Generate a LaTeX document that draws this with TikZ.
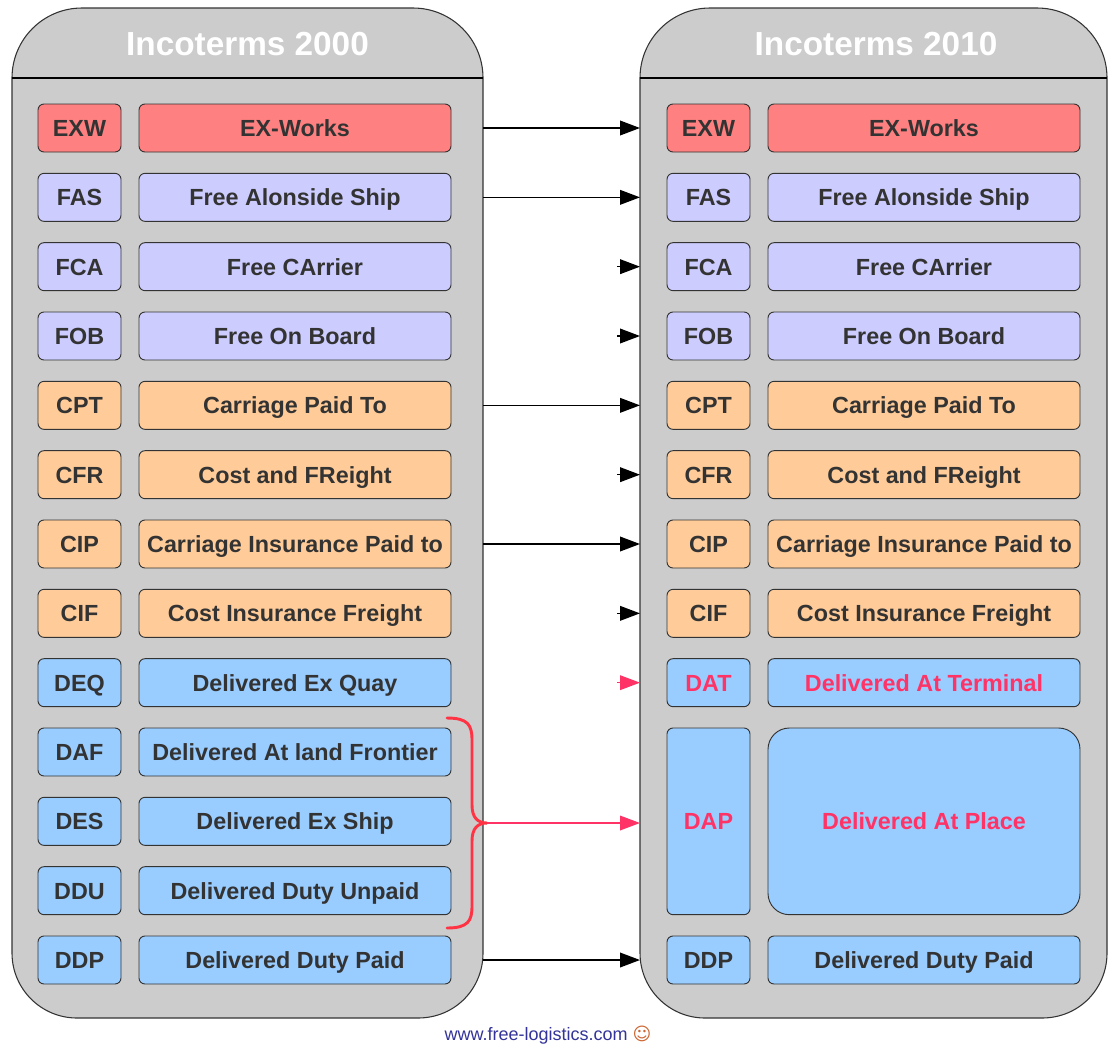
\documentclass[tikz,border=0pt]{standalone}
\usepackage{fontspec}
\setmainfont{Liberation Sans}
\newfontfamily\symfont{DejaVu Sans}
\usepackage{xcolor}
\usetikzlibrary{arrows.meta,positioning,calc}

\definecolor{panelgray}{HTML}{CCCCCC}
\definecolor{exred}{HTML}{FF8080}
\definecolor{flilac}{HTML}{CCCCFF}
\definecolor{corange}{HTML}{FFCC99}
\definecolor{dblue}{HTML}{99CCFF}
\definecolor{boxtext}{HTML}{333333}
\definecolor{newpink}{HTML}{FF3366}
\definecolor{bracered}{HTML}{FF3344}
\definecolor{webblue}{HTML}{333399}
\definecolor{smiley}{HTML}{CC6633}

\begin{document}
\begin{tikzpicture}[x=0.75pt, y=-0.75pt,
  node distance=16pt and 13.5pt,
  code/.style={draw=black!80, line width=0.7pt, rounded corners=4.5pt, outer sep=0pt,
               minimum width=62.25pt, minimum height=36pt, inner sep=1pt,
               text height=12.5pt, text depth=0pt,
               text=boxtext, font=\fontsize{17.5}{20}\selectfont\bfseries},
  term/.style={code, minimum width=234pt},
  panel/.style={fill=panelgray, draw=black!80, line width=0.8pt},
  head/.style={text=white, text height=18pt, text depth=0pt,
               font=\fontsize{25}{28}\selectfont\bfseries},
  ar/.style={-{Triangle[length=15pt, width=11pt]}, line width=1.2pt},
  arnew/.style={ar, draw=newpink, fill=newpink, line width=1pt}
]
\useasboundingbox (0,0) rectangle (1109,1043);

% panels
\path[panel] (12,78) .. controls (12,39.3) and (43.3,8) .. (82,8) -- (413,8)
  .. controls (451.7,8) and (483,39.3) .. (483,78) -- (483,953)
  .. controls (483,988.9) and (454.9,1018) .. (418,1018) -- (77,1018)
  .. controls (41.1,1018) and (12,988.9) .. (12,953) -- cycle;
\path[panel] (640,78) .. controls (640,39.3) and (671.3,8) .. (710,8) -- (1037,8)
  .. controls (1075.7,8) and (1107,39.3) .. (1107,78) -- (1107,953)
  .. controls (1107,988.9) and (1078.9,1018) .. (1042,1018) -- (705,1018)
  .. controls (669.1,1018) and (640,988.9) .. (640,953) -- cycle;
\draw[line width=0.8pt] (12,78) -- (483,78);
\draw[line width=0.8pt] (640,78) -- (1107,78);
\coordinate (edgeL) at (483,0);
\coordinate (edgeR) at (640,0);

\node[head] (h2000) at (247.5,43) {Incoterms 2000};
\node[head] (h2010) at (876,43) {Incoterms 2010};

% Incoterms 2000
\node[code, fill=exred] (exwL) at (79.5,128) {EXW};
\node[term, fill=exred, right=of exwL] (exwLn) {EX-Works};
\node[code, fill=flilac, below=of exwL] (fasL) {FAS};
\node[term, fill=flilac, right=of fasL] (fasLn) {Free Alonside Ship};
\node[code, fill=flilac, below=of fasL] (fcaL) {FCA};
\node[term, fill=flilac, right=of fcaL] (fcaLn) {Free CArrier};
\node[code, fill=flilac, below=of fcaL] (fobL) {FOB};
\node[term, fill=flilac, right=of fobL] (fobLn) {Free On Board};
\node[code, fill=corange, below=of fobL] (cptL) {CPT};
\node[term, fill=corange, right=of cptL] (cptLn) {Carriage Paid To};
\node[code, fill=corange, below=of cptL] (cfrL) {CFR};
\node[term, fill=corange, right=of cfrL] (cfrLn) {Cost and FReight};
\node[code, fill=corange, below=of cfrL] (cipL) {CIP};
\node[term, fill=corange, right=of cipL] (cipLn) {Carriage Insurance Paid to};
\node[code, fill=corange, below=of cipL] (cifL) {CIF};
\node[term, fill=corange, right=of cifL] (cifLn) {Cost Insurance Freight};
\node[code, fill=dblue, below=of cifL] (deqL) {DEQ};
\node[term, fill=dblue, right=of deqL] (deqLn) {Delivered Ex Quay};
\node[code, fill=dblue, below=of deqL] (dafL) {DAF};
\node[term, fill=dblue, right=of dafL] (dafLn) {Delivered At land Frontier};
\node[code, fill=dblue, below=of dafL] (desL) {DES};
\node[term, fill=dblue, right=of desL] (desLn) {Delivered Ex Ship};
\node[code, fill=dblue, below=of desL] (dduL) {DDU};
\node[term, fill=dblue, right=of dduL] (dduLn) {Delivered Duty Unpaid};
\node[code, fill=dblue, below=of dduL] (ddpL) {DDP};
\node[term, fill=dblue, right=of ddpL] (ddpLn) {Delivered Duty Paid};

% Incoterms 2010
\node[code, fill=exred] (exwR) at (708.5,128) {EXW};
\node[term, fill=exred, right=of exwR] (exwRn) {EX-Works};
\node[code, fill=flilac, below=of exwR] (fasR) {FAS};
\node[term, fill=flilac, right=of fasR] (fasRn) {Free Alonside Ship};
\node[code, fill=flilac, below=of fasR] (fcaR) {FCA};
\node[term, fill=flilac, right=of fcaR] (fcaRn) {Free CArrier};
\node[code, fill=flilac, below=of fcaR] (fobR) {FOB};
\node[term, fill=flilac, right=of fobR] (fobRn) {Free On Board};
\node[code, fill=corange, below=of fobR] (cptR) {CPT};
\node[term, fill=corange, right=of cptR] (cptRn) {Carriage Paid To};
\node[code, fill=corange, below=of cptR] (cfrR) {CFR};
\node[term, fill=corange, right=of cfrR] (cfrRn) {Cost and FReight};
\node[code, fill=corange, below=of cfrR] (cipR) {CIP};
\node[term, fill=corange, right=of cipR] (cipRn) {Carriage Insurance Paid to};
\node[code, fill=corange, below=of cipR] (cifR) {CIF};
\node[term, fill=corange, right=of cifR] (cifRn) {Cost Insurance Freight};
\node[code, fill=dblue, text=newpink, below=of cifR] (datR) {DAT};
\node[term, fill=dblue, text=newpink, right=of datR] (datRn) {Delivered At Terminal};
\node[code, fill=dblue, text=newpink, minimum height=140pt, below=of datR] (dapR) {DAP};
\node[term, fill=dblue, text=newpink, minimum height=140pt, rounded corners=16pt,
      right=of dapR] (dapRn) {Delivered At Place};
\node[code, fill=dblue, below=of dapR] (ddpR) {DDP};
\node[term, fill=dblue, right=of ddpR] (ddpRn) {Delivered Duty Paid};

% brace over DAF, DES, DDU
\coordinate (bracetip) at (487,823);
\draw[bracered, line width=2.2pt, line cap=round]
  (447,718) .. controls (468,718) and (472,725) .. (472,740) -- (472,805)
  .. controls (472,818) and (478,823) .. (bracetip)
  .. controls (478,823) and (472,828) .. (472,841) -- (472,906)
  .. controls (472,921) and (468,928) .. (447,928);

% arrows
\draw[ar] (edgeL |- exwL) -- (edgeR |- exwR);
\draw[ar] (edgeL |- fasL) -- (edgeR |- fasR);
\draw[ar] ($(edgeR |- fcaR)+(-23,0)$) -- (edgeR |- fcaR);
\draw[ar] ($(edgeR |- fobR)+(-23,0)$) -- (edgeR |- fobR);
\draw[ar] (edgeL |- cptL) -- (edgeR |- cptR);
\draw[ar] ($(edgeR |- cfrR)+(-23,0)$) -- (edgeR |- cfrR);
\draw[ar] (edgeL |- cipL) -- (edgeR |- cipR);
\draw[ar] ($(edgeR |- cifR)+(-23,0)$) -- (edgeR |- cifR);
\draw[arnew] ($(edgeR |- datR)+(-23,0)$) -- (edgeR |- datR);
\draw[arnew] (bracetip) -- (bracetip -| edgeR);
\draw[ar] (edgeL |- ddpL) -- (edgeR |- ddpR);

\node[text=webblue, font=\fontsize{13.5}{16}\selectfont] (web) at (548,1035)
  {www.free-logistics.com {\symfont\textcolor{smiley}{☺}}};
\end{tikzpicture}
\end{document}
